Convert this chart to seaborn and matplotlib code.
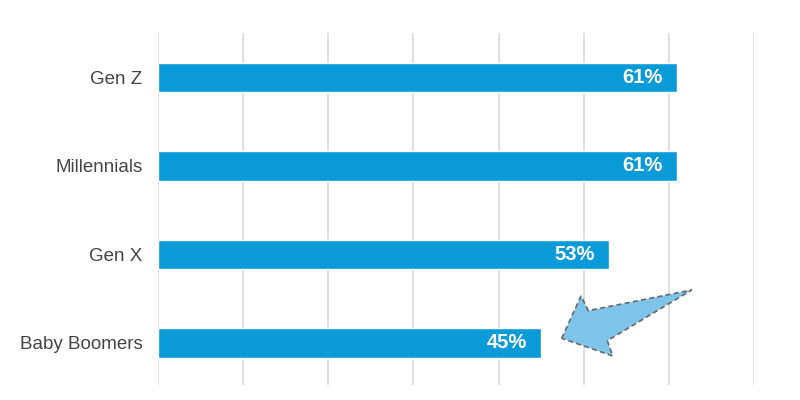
import matplotlib
matplotlib.use("Agg")
import matplotlib.pyplot as plt
import seaborn as sns
import pandas as pd
from matplotlib.patches import Polygon

categories = ["Gen Z", "Millennials", "Gen X", "Baby Boomers"]
values = [61, 61, 53, 45]
labels = ["61%", "61%", "53%", "45%"]

df = pd.DataFrame({"generation": categories, "share": values})

sns.set_theme(style="white")
plt.rcParams["font.family"] = ["Liberation Sans", "DejaVu Sans"]

fig = plt.figure(figsize=(8, 4), dpi=100)
ax = fig.add_axes([0.1975, 0.0375, 0.745, 0.88])

sns.barplot(data=df, y="generation", x="share", orient="h", color="#0a9ad8",
            saturation=1, width=0.33, ax=ax, zorder=3)

ax.set_xlim(0, 70)
ax.set_ylim(3.475, -0.503)
ax.set_xticks(range(0, 71, 10))
ax.grid(axis="x", color="#dcdcdc", linewidth=1.3, zorder=0)
ax.tick_params(axis="x", bottom=False, labelbottom=False)
ax.tick_params(axis="y", left=False, pad=5, labelsize=13.5, labelcolor="#444444")
ax.set_xlabel("")
ax.set_ylabel("")
for s in ax.spines.values():
    s.set_visible(False)

for i, (v, lab) in enumerate(zip(values, labels)):
    ax.text(v - 1.7, i, lab, ha="right", va="center", color="white",
            fontsize=14.5, fontweight="bold", zorder=4)

# decorative arrow (pixel-derived shape converted to data space)
def px(x, y):
    return ((x - 158) / 8.514, (y - 77.5) / 88.5)

pts = [px(561.7, 338.3), px(581, 296), px(588.3, 310.7), px(691.7, 290),
       px(607.3, 340.7), px(612.7, 356)]
arrow = Polygon(pts, closed=True, facecolor="#7fc4ea", edgecolor="#666666",
                linestyle=(0, (3, 2)), linewidth=1.2, zorder=5, clip_on=False)
ax.add_patch(arrow)

fig.savefig("out.png", dpi=100)
